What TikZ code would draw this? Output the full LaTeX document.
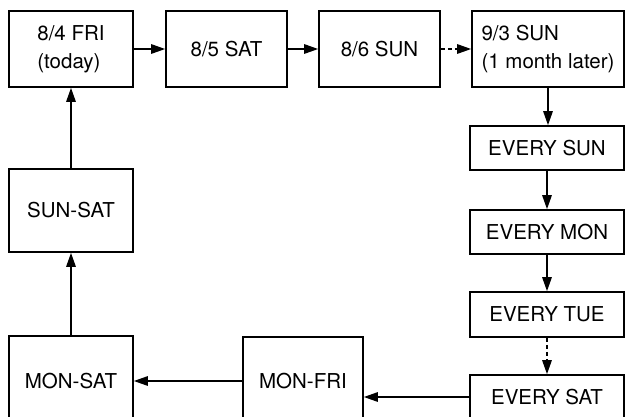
\documentclass[tikz,border=0pt]{standalone}
\usepackage{fontspec}
\setmainfont{TeX Gyre Heros}
\usetikzlibrary{arrows.meta}
\begin{document}
\begin{tikzpicture}[x=1pt,y=-1pt,
  box/.style={draw, line width=1.7pt, inner sep=0pt, align=left,
    font=\fontsize{20.5}{28}\selectfont},
  arr/.style={line width=1.4pt, -{Triangle[length=14pt,width=9.5pt]}},
  darr/.style={arr, dash pattern=on 4pt off 3pt}]
\useasboundingbox (0,0) rectangle (631,416);
\fill[white] (0,0) rectangle (631,416);
\clip (0,0) rectangle (631,416);
% top row
\node[box, minimum width=124pt, minimum height=76pt] (fri) at (71,49) {8/4 FRI\\(today)};
\node[box, minimum width=121pt, minimum height=76pt] (sat) at (226.5,49) {8/5 SAT};
\node[box, minimum width=121pt, minimum height=76pt] (sun) at (379.5,49) {8/6 SUN};
\node[box, minimum width=152pt, minimum height=76pt] (sunm) at (548,49) {9/3 SUN\\(1 month later)};
% right column
\node[box, minimum width=154pt, minimum height=44pt] (esun) at (547,148) {EVERY SUN};
\node[box, minimum width=154pt, minimum height=44pt] (emon) at (547,232) {EVERY MON};
\node[box, minimum width=154pt, minimum height=45pt] (etue) at (547,314.5) {EVERY TUE};
\node[box, minimum width=154pt, minimum height=44pt] (esat) at (547,397) {EVERY SAT};
% bottom / left
\node[box, minimum width=120pt, minimum height=88pt] (monfri) at (303,381) {MON-FRI};
\node[box, minimum width=124pt, minimum height=90pt] (monsat) at (71,381) {MON-SAT};
\node[box, minimum width=124pt, minimum height=83pt] (sunsat) at (71,210.5) {SUN-SAT};
% connectors
\draw[arr] (fri.east) -- (sat.west);
\draw[arr] (sat.east) -- (sun.west);
\draw[darr] (sun.east) -- (sunm.west);
\draw[arr] (sunm.south) -- (sunm.south |- esun.north);
\draw[arr] (esun.south) -- (emon.north);
\draw[arr] (emon.south) -- (etue.north);
\draw[darr] (etue.south) -- (esat.north);
\draw[arr] (esat.west) -- (esat.west -| monfri.east);
\draw[arr] (monfri.west) -- (monsat.east);
\draw[arr] (monsat.north) -- (sunsat.south);
\draw[arr] (sunsat.north) -- (fri.south);
\end{tikzpicture}
\end{document}
